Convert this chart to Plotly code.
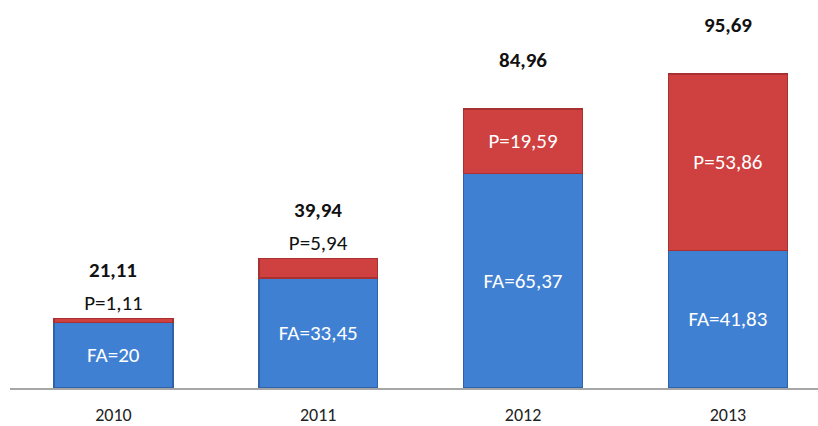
import plotly.graph_objects as go

years = ["2010", "2011", "2012", "2013"]
fa_values = [20, 33.45, 65.37, 41.83]
p_values = [1.11, 5.94, 19.59, 53.86]
fa_labels = ["FA=20", "FA=33,45", "FA=65,37", "FA=41,83"]
p_labels = ["P=1,11", "P=5,94", "P=19,59", "P=53,86"]
total_labels = ["21,11", "39,94", "84,96", "95,69"]

FONT = "Carlito, Lato, sans-serif"
BAR_W = 0.58

fig = go.Figure()
fig.add_trace(go.Bar(
    x=years, y=fa_values, width=BAR_W,
    marker=dict(color="#3f80d3", line=dict(color="#2f62a8", width=1.5)),
    text=fa_labels, textposition="inside", insidetextanchor="middle",
    textfont=dict(family=FONT, size=21, color="white"),
    constraintext="none", hoverinfo="skip",
))
fig.add_trace(go.Bar(
    x=years, y=p_values, width=BAR_W,
    marker=dict(color="#cf4040", line=dict(color="#a83030", width=1.5)),
    text=p_labels,
    textposition=["outside", "outside", "inside", "inside"],
    insidetextanchor="middle",
    textfont=dict(family=FONT, size=21, color=["#111111", "#111111", "white", "white"]),
    constraintext="none", cliponaxis=False, hoverinfo="skip",
))

for i, (fa, p, lbl) in enumerate(zip(fa_values, p_values, total_labels)):
    fig.add_annotation(
        x=i, y=fa + p, text=f"<b>{lbl}</b>", showarrow=False,
        xref="x", yref="y",
        yanchor="middle", yshift=49,
        font=dict(family=FONT, size=21, color="#111111"),
    )

fig.update_layout(
    width=818, height=426,
    margin=dict(l=10, r=0, t=0, b=38),
    barmode="stack",
    showlegend=False,
    plot_bgcolor="white", paper_bgcolor="white",
    xaxis=dict(
        type="category", range=[-0.505, 3.44], automargin=False,
        showline=True, linecolor="#a6a6a6", linewidth=1.5,
        ticks="outside", ticklen=10, tickcolor="rgba(0,0,0,0)",
        tickfont=dict(family=FONT, size=18, color="#222222"),
        showgrid=False, zeroline=False, fixedrange=True,
    ),
    yaxis=dict(
        range=[0, 118.2], visible=False, showgrid=False, zeroline=False,
        automargin=False,
    ),
)

fig.write_html("out.html", config={"displayModeBar": False},
               post_script="document.body.style.margin='0';")
